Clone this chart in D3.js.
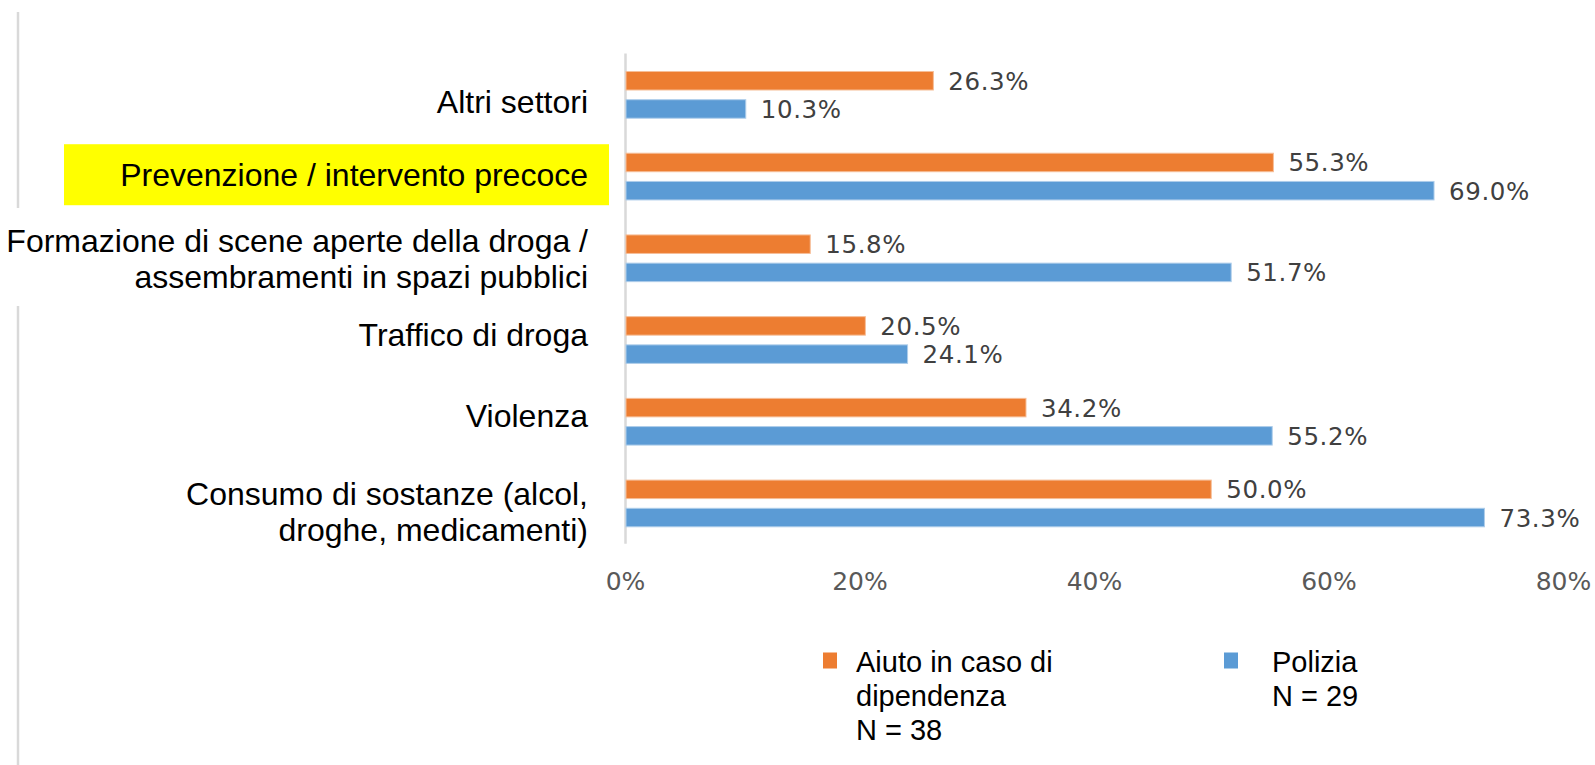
<!DOCTYPE html>
<html>
<head>
<meta charset="utf-8">
<script src="https://cdn.jsdelivr.net/npm/d3@7"></script>
<style>
  body { margin: 0; background: #fff; }
  svg { display: block; }
</style>
</head>
<body>
<div id="chart"></div>
<script>
// categories from top to bottom, label lines split where the original wraps
var categories = [
    ["Altri settori"],
    ["Prevenzione / intervento precoce"],
    ["Formazione di scene aperte della droga /", "assembramenti in spazi pubblici"],
    ["Traffico di droga"],
    ["Violenza"],
    ["Consumo di sostanze (alcol,", "droghe, medicamenti)"]
]
var series = ["Aiuto in caso di dipendenza", "Polizia"]
var aiuto = [26.3, 55.3, 15.8, 20.5, 34.2, 50.0]
var polizia = [10.3, 69.0, 51.7, 24.1, 55.2, 73.3]
var xTicks = [0, 20, 40, 60, 80]
var legendLines = [
    ["Aiuto in caso di", "dipendenza", "N = 38"],
    ["Polizia", "N = 29"]
]
var highlighted = 1

var colors = ["#ED7D31", "#5B9BD5"]
var strokes = ["#F6BE98", "#AECDEA"]
// small vertical nudges for the label text boxes, as in the original
var labelShift = [19.5, 10.5, -5.5, 7, 6.5, 2.5]

var width = 1595,
    height = 765

var svg = d3.select("#chart")
    .append("svg")
    .attr("width", width)
    .attr("height", height)

var keys = categories.map(function (d, i) { return i })

var x = d3.scaleLinear().domain([0, 80]).range([625, 1563])
var y = d3.scaleBand().domain(keys).range([53, 543.3])
var ySub = d3.scaleBand().domain(series).range([18.5, y.step() - 16.5]).paddingInner(0.344)

// thin grey rule on the far left (broken where the long label sits)
svg.append("line").attr("x1", 18).attr("x2", 18).attr("y1", 12).attr("y2", 208)
    .attr("stroke", "#d9d9d9").attr("stroke-width", 2.5)
svg.append("line").attr("x1", 18).attr("x2", 18).attr("y1", 306).attr("y2", 765)
    .attr("stroke", "#d9d9d9").attr("stroke-width", 2.5)

// yellow highlight behind one label
svg.append("rect")
    .attr("x", 64)
    .attr("y", y(highlighted) + 9.5)
    .attr("width", 545)
    .attr("height", 61)
    .attr("fill", "#FFFF00")

// value axis
var xAxis = svg.append("g")
    .attr("transform", "translate(0,566)")
    .call(d3.axisBottom(x).tickValues(xTicks).tickFormat(function (d) { return d + "%" }).tickSize(0))
xAxis.select(".domain").remove()
xAxis.selectAll("text")
    .attr("y", 0)
    .attr("dy", "24px")
    .attr("font-family", "DejaVu Sans")
    .attr("font-size", "25px")
    .attr("fill", "#595959")

// category axis line
var yAxis = svg.append("g")
    .attr("transform", "translate(625,0)")
    .call(d3.axisLeft(y).tickSize(0).tickSizeOuter(0).tickFormat(""))
yAxis.select(".domain").attr("stroke", "#d9d9d9").attr("stroke-width", 2.5)

// category labels
categories.forEach(function (lines, i) {
    var cy = y(i) + y.bandwidth() / 2 + labelShift[i]
    lines.forEach(function (line, j) {
        svg.append("text")
            .attr("x", 588)
            .attr("y", cy + j * 36)
            .attr("text-anchor", "end")
            .attr("font-family", "Liberation Sans, Arial, sans-serif")
            .attr("font-size", "32px")
            .attr("fill", "#000")
            .text(line)
    })
})

// bars
var rows = []
keys.forEach(function (k) {
    rows.push({ cat: k, s: 0, v: aiuto[k] })
    rows.push({ cat: k, s: 1, v: polizia[k] })
})

svg.selectAll(".bar")
    .data(rows)
    .enter()
    .append("rect")
    .attr("class", "bar")
    .attr("x", x(0) + 1)
    .attr("y", function (d) { return y(d.cat) + ySub(series[d.s]) })
    .attr("width", function (d) { return x(d.v) - x(0) - 1 })
    .attr("height", ySub.bandwidth())
    .attr("fill", function (d) { return colors[d.s] })
    .attr("stroke", function (d) { return strokes[d.s] })
    .attr("stroke-width", 1)

svg.selectAll(".val")
    .data(rows)
    .enter()
    .append("text")
    .attr("class", "val")
    .attr("x", function (d) { return x(d.v) + 15 })
    .attr("y", function (d) { return y(d.cat) + ySub(series[d.s]) + ySub.bandwidth() / 2 + 9 })
    .attr("font-family", "DejaVu Sans")
    .attr("font-size", "24.5px")
    .attr("letter-spacing", "0.6px")
    .attr("fill", "#404040")
    .text(function (d) { return d.v.toFixed(1) + "%" })

// legend
var legendX = [823, 1224],
    textX = [856, 1272]
legendLines.forEach(function (lines, i) {
    svg.append("rect")
        .attr("x", legendX[i])
        .attr("y", 652.5)
        .attr("width", 14)
        .attr("height", 16)
        .attr("fill", colors[i])
    lines.forEach(function (line, j) {
        svg.append("text")
            .attr("x", textX[i])
            .attr("y", 672 + j * 34)
            .attr("font-family", "Liberation Sans, Arial, sans-serif")
            .attr("font-size", "29px")
            .attr("fill", "#000")
            .text(line)
    })
})
</script>
</body>
</html>
